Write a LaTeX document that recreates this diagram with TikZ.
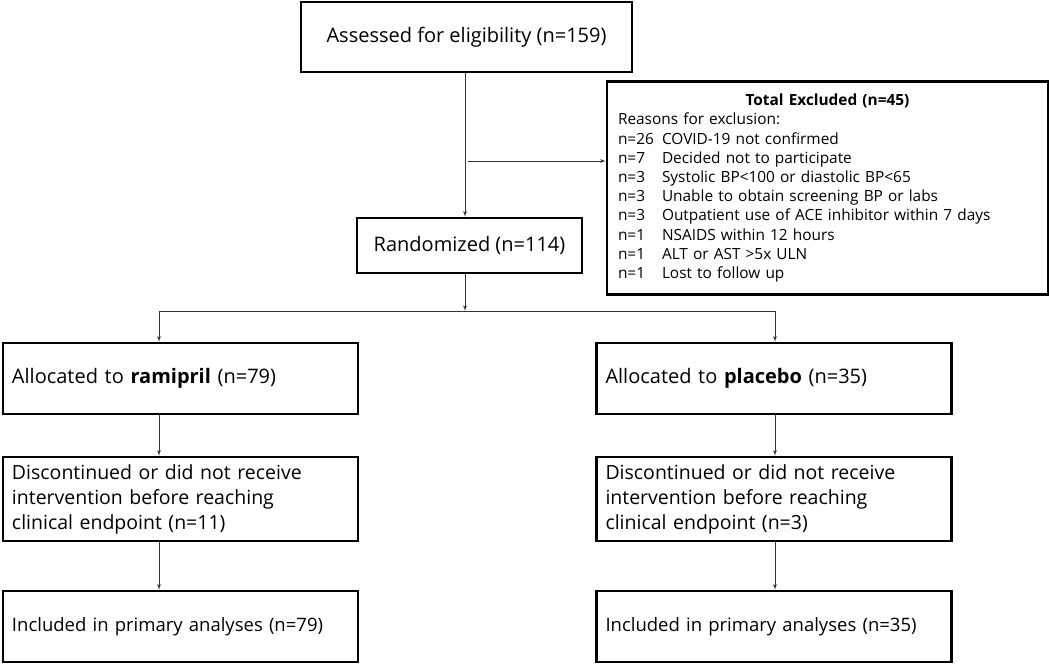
\documentclass[tikz,border=0pt]{standalone}
\usepackage{fontspec}
\setmainfont{Open Sans}
\usepackage{tikz}
\usetikzlibrary{shapes,arrows}
\usetikzlibrary{calc}
\usetikzlibrary{positioning}
\tikzstyle{block} = [draw, line width=2.5pt, rectangle, inner sep=0pt,
    font=\fontsize{20}{25}\selectfont]
\tikzstyle{arm} = [block, minimum width=355pt, text width=337pt,
    inner xsep=9pt, align=left, minimum height=71pt]
\tikzstyle{flow} = [line width=0.9pt, draw=black!80]
\newcommand{\reason}[2]{\makebox[44pt][l]{#1}#2}

\begin{document}
\begin{tikzpicture}[x=1pt, y=-1pt, >=latex']
    \useasboundingbox (0,0) rectangle (1050,664);

    \node[block, minimum width=331pt, minimum height=70pt,
        font=\fontsize{20}{25}\selectfont] (assess) at (466.5,37)
        {Assessed for eligibility (n=159)};
    \node[block, minimum width=441pt, minimum height=213pt, text width=419pt,
        inner xsep=11pt, align=left, font=\fontsize{15.4}{19.2}\selectfont] (excl) at (827.5,188)
        {\makebox[419pt]{\textbf{Total Excluded (n=45)}}\\
         Reasons for exclusion:\\
         \reason{n=26}{COVID-19 not confirmed}\\
         \reason{n=7}{Decided not to participate}\\
         \reason{n=3}{Systolic BP<100 or diastolic BP<65}\\
         \reason{n=3}{Unable to obtain screening BP or labs}\\
         \reason{n=3}{Outpatient use of ACE inhibitor within 7 days}\\
         \reason{n=1}{NSAIDS within 12 hours}\\
         \reason{n=1}{ALT or AST >5x ULN}\\
         \reason{n=1}{Lost to follow up}};
    \node[block, minimum width=225pt, minimum height=55pt] (rand) at (469.5,245.5)
        {Randomized (n=114)};

    \node[arm] (ram) at (180.5,378.5) {Allocated to \textbf{ramipril} (n=79)};
    \node[arm] (plac) at (774,378.5) {Allocated to \textbf{placebo} (n=35)};
    \node[arm, minimum height=84pt, font=\fontsize{19.5}{25}\selectfont] (disc1) at (180.5,499)
        {Discontinued or did not receive\\intervention before reaching\\clinical endpoint (n=11)};
    \node[arm, minimum height=84pt, font=\fontsize{19.5}{25}\selectfont] (disc2) at (774,499)
        {Discontinued or did not receive\\intervention before reaching\\clinical endpoint (n=3)};
    \node[arm, font=\fontsize{18.5}{23}\selectfont] (incl1) at (180.5,626.5) {Included in primary analyses (n=79)};
    \node[arm, font=\fontsize{18.5}{23}\selectfont] (incl2) at (774,626.5) {Included in primary analyses (n=35)};

    % connectors
    \coordinate (split) at (468,161);
    \coordinate (branch) at (465,311);
    \coordinate (lft) at (159,311);
    \coordinate (rgt) at (775,311);
    \draw[flow, ->] (assess.south -| branch) -- (rand.north -| branch);
    \draw[flow, ->] (split) -- (split -| excl.west);
    \draw[flow, ->] (rand.south -| branch) -- (branch);
    \draw[flow] (lft) -- (rgt);
    \draw[flow, ->] (lft) -- (lft |- ram.north);
    \draw[flow, ->] (rgt) -- (rgt |- plac.north);
    \draw[flow, ->] (lft |- ram.south) -- (lft |- disc1.north);
    \draw[flow, ->] (rgt |- plac.south) -- (rgt |- disc2.north);
    \draw[flow, ->] (lft |- disc1.south) -- (lft |- incl1.north);
    \draw[flow, ->] (rgt |- disc2.south) -- (rgt |- incl2.north);
\end{tikzpicture}
\end{document}
